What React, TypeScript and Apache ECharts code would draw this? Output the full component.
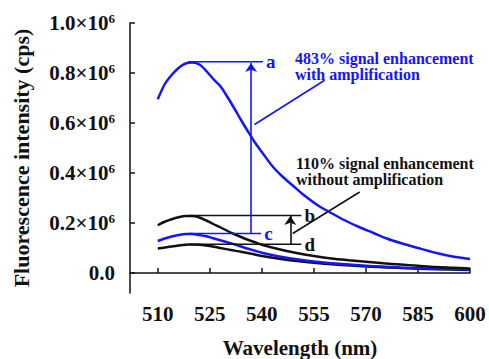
import React, { useEffect, useRef } from "react";
import * as echarts from "echarts";

// wavelength (nm), intensity in units of 10^6 cps
const curveA: [number, number][] = [
  [510, 0.695], [512, 0.755], [514, 0.792], [516, 0.82], [518, 0.838], [520, 0.842], [522, 0.834],
  [524, 0.808], [526, 0.776], [528, 0.748], [530, 0.706], [532, 0.66], [534, 0.612], [536, 0.566],
  [538, 0.522], [540, 0.484], [543, 0.428], [546, 0.385], [549, 0.349], [552, 0.313], [556, 0.272],
  [560, 0.24], [564, 0.21], [568, 0.184], [572, 0.161], [576, 0.138], [580, 0.12], [585, 0.1],
  [590, 0.081], [595, 0.066], [600, 0.056],
];
const curveB: [number, number][] = [
  [510, 0.191], [512, 0.205], [514, 0.215], [516, 0.223], [518, 0.228], [520, 0.228], [522, 0.222],
  [524, 0.21], [526, 0.196], [528, 0.183], [530, 0.169], [532, 0.156], [534, 0.144], [536, 0.133],
  [538, 0.123], [540, 0.113], [545, 0.095], [550, 0.08], [555, 0.068], [560, 0.058], [565, 0.051],
  [570, 0.045], [575, 0.039], [580, 0.034], [585, 0.029], [590, 0.024], [595, 0.021], [600, 0.018],
];
const curveC: [number, number][] = [
  [510, 0.128], [512, 0.138], [514, 0.146], [516, 0.152], [518, 0.156], [520, 0.156], [522, 0.152],
  [524, 0.147], [526, 0.139], [528, 0.131], [530, 0.123], [532, 0.115], [534, 0.106], [536, 0.097],
  [538, 0.089], [540, 0.081], [545, 0.066], [550, 0.055], [555, 0.046], [560, 0.039], [570, 0.029],
  [580, 0.022], [590, 0.017], [600, 0.014],
];
const curveD: [number, number][] = [
  [510, 0.098], [513, 0.104], [516, 0.11], [519, 0.114], [522, 0.113], [525, 0.108], [528, 0.1],
  [531, 0.092], [534, 0.085], [537, 0.077], [540, 0.068], [545, 0.057], [550, 0.048], [555, 0.041],
  [560, 0.035], [570, 0.026], [580, 0.02], [590, 0.015], [600, 0.012],
];

// annotation levels (data coords)
const levelA: [number, number][] = [[518.7, 0.845], [540.3, 0.845]];
const levelB: [number, number][] = [[519.1, 0.23], [551.4, 0.23]];
const levelC: [number, number][] = [[519.1, 0.158], [539.8, 0.158]];
const levelD: [number, number][] = [[519.1, 0.115], [551.4, 0.115]];
const arrowAC: [number, number][] = [[536.9, 0.158], [536.9, 0.84]];
const arrowBD: [number, number][] = [[548.2, 0.115], [548.2, 0.228]];
const pointerBlue: [number, number][] = [[537.9, 0.594], [558.1, 0.771]];
const pointerBlack: [number, number][] = [[548.9, 0.158], [568.2, 0.324]];

const xTicks = [510, 525, 540, 555, 570, 585, 600];
const yTicks = [0, 0.2, 0.4, 0.6, 0.8, 1.0];

const BLUE = "#1414ff";
const BLACK = "#111111";
const FONT = "Liberation Serif";

export default function App() {
  const ref = useRef<HTMLDivElement>(null);
  useEffect(() => {
    if (!ref.current) return;
    const chart = echarts.init(ref.current, null, { renderer: "svg" });
    const curve = (data: [number, number][], color: string) => ({
      type: "line",
      data,
      smooth: 0.3,
      showSymbol: false,
      symbol: "none",
      silent: true,
      lineStyle: { color, width: 2.5 },
      z: 3,
    });
    const level = (data: [number, number][], color: string, letter: string, extra: any = {}) => ({
      type: "line",
      data,
      showSymbol: false,
      symbol: "none",
      silent: true,
      lineStyle: { color, width: 1.6 },
      endLabel: {
        show: true,
        formatter: letter,
        color,
        fontFamily: FONT,
        fontWeight: "bold",
        fontSize: 19,
        distance: 3,
      },
      z: 4,
      ...extra,
    });
    const seg = (d: [number, number][], color: string, arrow: boolean) => [
      {
        coord: d[0],
        symbol: "none",
        lineStyle: { color, width: 1.6, type: "solid" },
      },
      { coord: d[1], symbol: arrow ? "arrow" : "none", symbolSize: 9 },
    ];
    chart.setOption({
      animation: false,
      textStyle: { fontFamily: FONT, fontWeight: "bold", color: BLACK },
      grid: { left: 130, right: 19, top: 23, bottom: 66, containLabel: false, outerBoundsMode: "none" },
      xAxis: {
        type: "value",
        min: 502,
        max: 600,
        name: "Wavelength (nm)",
        nameLocation: "middle",
        nameGap: 44,
        nameTextStyle: { fontFamily: FONT, fontWeight: "bold", fontSize: 21, color: BLACK },
        axisLine: { show: true, lineStyle: { color: BLACK, width: 1.5 } },
        axisTick: { show: true, inside: true, length: 5, customValues: xTicks, lineStyle: { color: BLACK, width: 1.5 } },
        axisLabel: {
          customValues: xTicks,
          fontFamily: FONT,
          fontWeight: "bold",
          fontSize: 21,
          color: BLACK,
          margin: 10,
        },
        splitLine: { show: false },
      },
      yAxis: {
        type: "value",
        min: -0.08,
        max: 1.0,
        name: "Fluorescence intensity (cps)",
        nameLocation: "middle",
        nameGap: 98,
        nameTextStyle: { fontFamily: FONT, fontWeight: "bold", fontSize: 22, color: BLACK },
        axisLine: { show: true, lineStyle: { color: BLACK, width: 1.5 } },
        axisTick: { show: true, inside: true, length: 5, customValues: yTicks, lineStyle: { color: BLACK, width: 1.5 } },
        axisLabel: {
          customValues: yTicks,
          margin: 15,
          color: BLACK,
          fontFamily: FONT,
          fontWeight: "bold",
          fontSize: 21,
          formatter: (v: number) => (v === 0 ? "{m|0.0}" : `{m|${v.toFixed(1)}×10}{s|6}`),
          rich: {
            m: { fontFamily: FONT, fontWeight: "bold", fontSize: 21, color: BLACK, lineHeight: 22 },
            s: { fontFamily: FONT, fontWeight: "bold", fontSize: 13, color: BLACK, verticalAlign: "top", lineHeight: 22 },
          },
        },
        splitLine: { show: false },
      },
      series: [
        curve(curveD, BLACK),
        curve(curveC, BLUE),
        curve(curveB, BLACK),
        curve(curveA, BLUE),
        level(levelA, BLUE, "a"),
        level(levelB, BLACK, "b"),
        level(levelC, BLUE, "c", {
          markLine: {
            silent: true,
            label: { show: false },
            emphasis: { disabled: true },
            data: [seg(arrowAC, BLUE, true), seg(pointerBlue, BLUE, false)],
          },
        }),
        level(levelD, BLACK, "d", {
          markLine: {
            silent: true,
            label: { show: false },
            emphasis: { disabled: true },
            data: [seg(arrowBD, BLACK, true), seg(pointerBlack, BLACK, false)],
          },
        }),
      ],
      graphic: [
        {
          type: "text",
          left: 295,
          top: 50,
          silent: true,
          style: {
            text: "483% signal enhancement\nwith amplification",
            fill: BLUE,
            font: `bold 16px "${FONT}"`,
            lineHeight: 16,
          },
        },
        {
          type: "text",
          left: 296,
          top: 155,
          silent: true,
          style: {
            text: "110% signal enhancement\nwithout amplification",
            fill: BLACK,
            font: `bold 16px "${FONT}"`,
            lineHeight: 16,
          },
        },
      ],
    });
    return () => chart.dispose();
  }, []);
  return <div ref={ref} style={{ position: "absolute", left: 0, top: 0, width: 489, height: 359, background: "#fff" }} />;
}
